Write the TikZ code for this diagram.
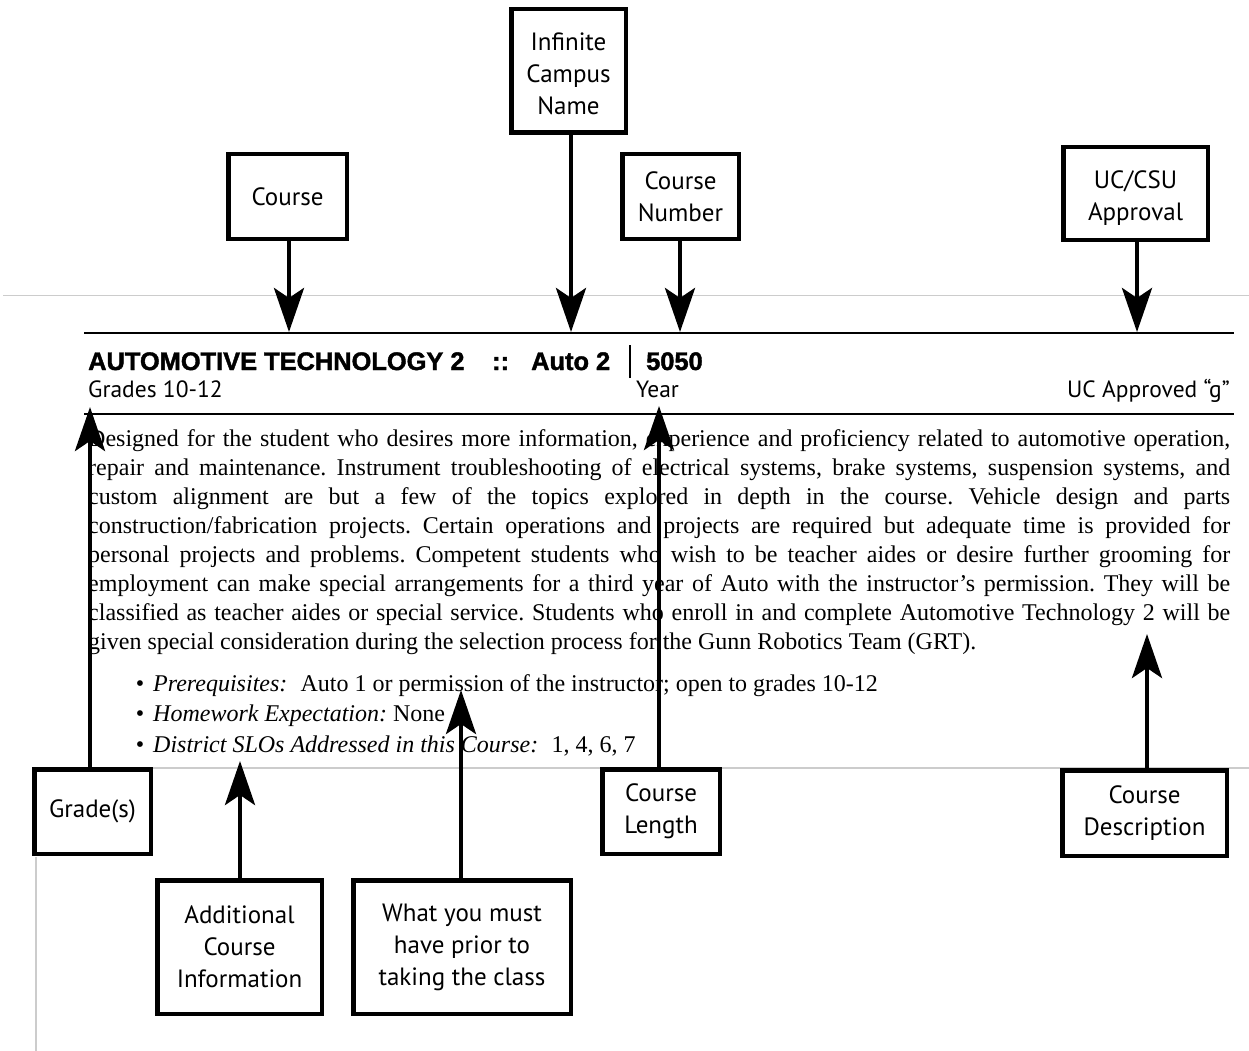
\documentclass[tikz,border=0pt]{standalone}
\usepackage{fontspec}
\setmainfont{Liberation Serif}
\newfontfamily\lblfont{PT Sans}
\newfontfamily\hdrfont{Liberation Sans}[BoldFeatures={FakeBold=1.6}]
\usetikzlibrary{arrows.meta}
\frenchspacing
\begin{document}
\begin{tikzpicture}[x=1pt,y=-1pt,
  lblbox/.style={draw, line width=4.5pt, fill=white, align=center, inner sep=0pt,
    font=\lblfont\fontsize{25}{32}\selectfont},
  arr/.style={line width=4.5pt, -{Stealth[length=44pt,width=30pt,inset=10pt]}},
  hrule/.style={line width=1.3pt},
  faint/.style={line width=1.2pt, color=black!20},
  hdr/.style={font=\hdrfont\bfseries\fontsize{25.4}{30}\selectfont, inner sep=0pt, anchor=base west},
  sub/.style={font=\lblfont\fontsize{23.5}{26}\selectfont, inner sep=0pt},
  body/.style={font=\frenchspacing\fontsize{24}{29.14}\selectfont, inner sep=0pt, anchor=base west},
]
\useasboundingbox (0,0) rectangle (1249,1051);
\fill[white] (0,0) rectangle (1249,1051);

% faint page lines
\draw[faint] (3,295.5) -- (1249,295.5);
\draw[faint] (152,768) -- (1249,768);
\draw[faint] (36,857) -- (36,1051);

% header rules
\draw[hrule] (84,333) -- (1234,333);
\draw[hrule] (84,414) -- (1234,414);

% header
\node[hdr] (title) at (88,370) {AUTOMOTIVE TECHNOLOGY 2};
\node[hdr] (sep) at (492,370) {::};
\node[hdr] (short) at (531,370) {Auto 2};
\node[inner sep=0pt, anchor=base] (bar) at (630,370) {\rule[-8pt]{1.8pt}{33pt}};
\node[hdr] (num) at (646,370) {5050};
\node[sub, anchor=base west] (grades) at (88,397) {Grades 10-12};
\node[sub, anchor=base west] (year) at (636,397) {Year};
\node[sub, anchor=base east] (ucg) at (1230,397) {UC Approved “g”};

% description
\node[body, text width=1142pt, align=justify] (desc) at (88,446) {Designed for the student who desires more information, experience and proficiency related to automotive operation,\linebreak
repair and maintenance. Instrument troubleshooting of electrical systems, brake systems, suspension systems, and\linebreak
custom alignment are but a few of the topics explored in depth in the course. Vehicle design and parts\linebreak
construction/fabrication projects. Certain operations and projects are required but adequate time is provided for\linebreak
personal projects and problems. Competent students who wish to be teacher aides or desire further grooming for\linebreak
employment can make special arrangements for a third year of Auto with the instructor’s permission. They will be\linebreak
classified as teacher aides or special service. Students who enroll in and complete Automotive Technology 2 will be\linebreak
given special consideration during the selection process for the Gunn Robotics Team (GRT).};

\node[body] (b1) at (153,691) {\makebox[0pt][r]{•\hspace{9pt}}\textit{Prerequisites:}\hspace{0.55em}Auto 1 or permission of the instructor; open to grades 10-12};
\node[body] (b2) at (153,721) {\makebox[0pt][r]{•\hspace{9pt}}\textit{Homework Expectation:} None};
\node[body] (b3) at (153,752) {\makebox[0pt][r]{•\hspace{9pt}}\textit{District SLOs Addressed in this Course:}\hspace{0.55em}1, 4, 6, 7};

% label boxes
\node[lblbox, minimum width=118.5pt, minimum height=84.5pt] (course) at (287.5,196.5) {Course};
\node[lblbox, minimum width=114.5pt, minimum height=123.5pt] (icn) at (568.5,71)
  {\raisebox{-5pt}[\height][\depth]{\begin{tabular}{@{}c@{}}Infinite\\Campus\\Name\end{tabular}}};
\node[lblbox, minimum width=116.5pt, minimum height=84.5pt] (cnum) at (680.5,196.5) {Course\\Number};
\node[lblbox, minimum width=144.5pt, minimum height=92.5pt] (uc) at (1135.5,193.5)
  {\raisebox{-5pt}[\height][\depth]{\begin{tabular}{@{}c@{}}UC/CSU\\Approval\end{tabular}}};
\node[lblbox, minimum width=116.5pt, minimum height=84.5pt] (grade) at (92.5,811.5) {Grade(s)};
\node[lblbox, minimum width=117.5pt, minimum height=84.5pt] (clen) at (661,811.5) {Course\\Length};
\node[lblbox, minimum width=164.5pt, minimum height=85.5pt] (cdesc) at (1144.5,813) {Course\\Description};
\node[lblbox, minimum width=164.5pt, minimum height=133.5pt] (addl) at (239.5,947) {Additional\\Course\\Information};
\node[lblbox, minimum width=217.5pt, minimum height=133.5pt] (prior) at (462,947) {What you must\\have prior to\\taking the class};

% arrow tips
\coordinate (tCourse) at (289,332);
\coordinate (tIcn) at (571,332);
\coordinate (tCnum) at (680,332);
\coordinate (tUc) at (1137,332);
\coordinate (tGrade) at (90,407);
\coordinate (tClen) at (659,406);
\coordinate (tCdesc) at (1147,634);
\coordinate (tAddl) at (240,761);
\coordinate (tPrior) at (461,690);

\draw[arr] (course.south -| tCourse) -- (tCourse);
\draw[arr] (icn.south -| tIcn) -- (tIcn);
\draw[arr] (cnum.south -| tCnum) -- (tCnum);
\draw[arr] (uc.south -| tUc) -- (tUc);
\draw[arr] (grade.north -| tGrade) -- (tGrade);
\draw[arr] (clen.north -| tClen) -- (tClen);
\draw[arr] (cdesc.north -| tCdesc) -- (tCdesc);
\draw[arr] (addl.north -| tAddl) -- (tAddl);
\draw[arr] (prior.north -| tPrior) -- (tPrior);
\end{tikzpicture}
\end{document}
